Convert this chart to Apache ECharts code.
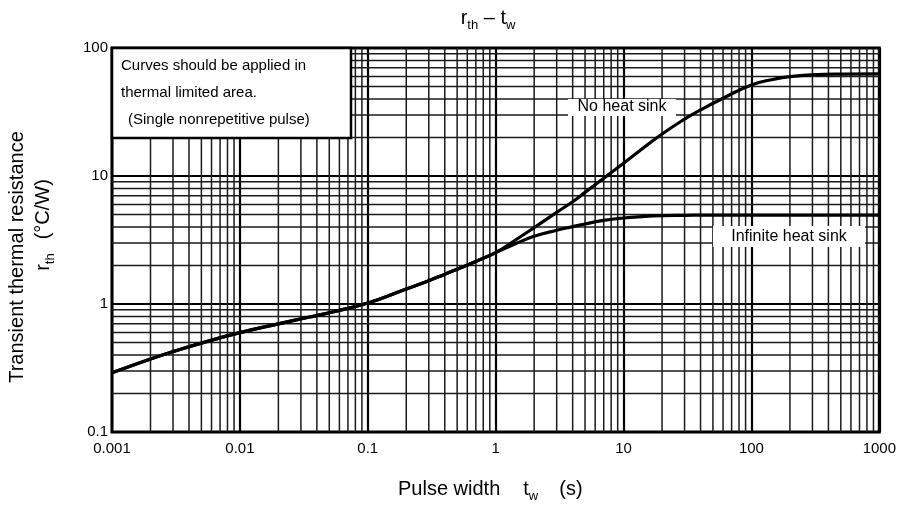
<!DOCTYPE html>
<html><head><meta charset="utf-8">
<script src="https://cdn.jsdelivr.net/npm/echarts@6/dist/echarts.min.js"></script>
<style>html,body{margin:0;padding:0;background:#fff}#c{width:899px;height:512px}</style>
</head><body><div id="c"></div>
<script>
// ---- tick labels ----
const xTickLabels = ['0.001', '0.01', '0.1', '1', '10', '100', '1000'];
const yTickLabels = ['0.1', '1', '10', '100'];
const minorSteps = [2, 3, 4, 5, 6, 7, 8, 9];
const xDecades = [0.001, 0.01, 0.1, 1, 10, 100];
const yDecades = [0.1, 1, 10];

// ---- series: No heat sink ----
const twNoSink = [0.001, 0.002, 0.003, 0.005, 0.01, 0.02, 0.035, 0.05, 0.1, 0.2, 0.3, 0.4, 0.5, 0.7, 1,
  1.4, 2, 3, 4, 5, 7, 10, 14, 20, 30, 40, 60, 100, 150, 200, 300, 500, 1000];
const rthNoSink = [0.29, 0.372, 0.425, 0.495, 0.597, 0.70, 0.791, 0.855, 1.017, 1.31, 1.52, 1.71, 1.87, 2.15, 2.52,
  3.12, 3.95, 5.2, 6.3, 7.45, 9.6, 12.6, 16.3, 21.3, 27.8, 32.8, 40.5, 51.5, 57.0, 59.8, 61.8, 62.6, 62.8];

// ---- series: Infinite heat sink ----
const twInf = [0.001, 0.002, 0.003, 0.005, 0.01, 0.02, 0.035, 0.05, 0.1, 0.2, 0.3, 0.4, 0.5, 0.7, 1,
  1.4, 2, 3, 4, 5, 7, 10, 14, 20, 30, 50, 100, 1000];
const rthInf = [0.29, 0.372, 0.425, 0.495, 0.597, 0.70, 0.791, 0.855, 1.017, 1.31, 1.52, 1.71, 1.87, 2.15, 2.52,
  2.93, 3.38, 3.77, 4.02, 4.22, 4.50, 4.70, 4.82, 4.90, 4.93, 4.95, 4.95, 4.95];

const FONT = '"Liberation Sans", Arial, Helvetica, sans-serif';

function pairs(xs, ys) { return xs.map((x, i) => [x, ys[i]]); }
const xMinor = [];
xDecades.forEach(d => minorSteps.forEach(m => xMinor.push(+(d * m).toPrecision(6))));
const yMinor = [];
yDecades.forEach(d => minorSteps.forEach(m => yMinor.push(+(d * m).toPrecision(6))));

const MINOR_STYLE = { stroke: '#1a1a1a', lineWidth: 1.5 };

const chart = echarts.init(document.getElementById('c'), null, { renderer: 'canvas' });
chart.setOption({
  animation: false,
  backgroundColor: '#fff',
  grid: { left: 112, right: 19, top: 48, bottom: 80, show: true, borderColor: '#000', borderWidth: 3, backgroundColor: 'transparent' },
  xAxis: {
    type: 'log', logBase: 10, min: 0.001, max: 1000,
    axisLine: { show: false }, axisTick: { show: false },
    axisLabel: { margin: 9, color: '#000', fontSize: 15, fontFamily: FONT,
      showMinLabel: true, showMaxLabel: true,
      formatter: v => xTickLabels[Math.round(Math.log10(v)) + 3] },
    splitLine: { show: true, lineStyle: { color: '#000', width: 2.2 } }
  },
  yAxis: {
    type: 'log', logBase: 10, min: 0.1, max: 100,
    axisLine: { show: false }, axisTick: { show: false },
    axisLabel: { margin: 4, color: '#000', fontSize: 15, fontFamily: FONT,
      showMinLabel: true, showMaxLabel: true,
      formatter: v => yTickLabels[Math.round(Math.log10(v)) + 1] },
    splitLine: { show: true, lineStyle: { color: '#000', width: 2.2 } }
  },
  series: [
    {
      type: 'custom', silent: true, z: 1, clip: false,
      data: xMinor.map(v => [v, 1]),
      encode: { x: 0, y: 1 },
      renderItem: (params, api) => {
        const v = api.value(0);
        const a = api.coord([v, 0.1]);
        const b = api.coord([v, 100]);
        return { type: 'line', shape: { x1: a[0], y1: a[1], x2: b[0], y2: b[1] }, style: MINOR_STYLE };
      }
    },
    {
      type: 'custom', silent: true, z: 1, clip: false,
      data: yMinor.map(v => [1, v]),
      encode: { x: 0, y: 1 },
      renderItem: (params, api) => {
        const v = api.value(1);
        const a = api.coord([0.001, v]);
        const b = api.coord([1000, v]);
        return { type: 'line', shape: { x1: a[0], y1: a[1], x2: b[0], y2: b[1] }, style: MINOR_STYLE };
      }
    },
    {
      name: 'No heat sink', type: 'line', data: pairs(twNoSink, rthNoSink),
      showSymbol: false, smooth: true, z: 5,
      lineStyle: { color: '#000', width: 3.2 }
    },
    {
      name: 'Infinite heat sink', type: 'line', data: pairs(twInf, rthInf),
      showSymbol: false, smooth: true, z: 5,
      lineStyle: { color: '#000', width: 3.2 }
    }
  ],
  graphic: [
    // note box
    { type: 'rect', z: 100, shape: { x: 112, y: 48, width: 239, height: 90 },
      style: { fill: '#fff', stroke: '#000', lineWidth: 2.5 } },
    { type: 'text', z: 101, x: 121, y: 66, style: { text: 'Curves should be applied in', font: '15px ' + FONT, fill: '#000', align: 'left', verticalAlign: 'middle' } },
    { type: 'text', z: 101, x: 121, y: 93, style: { text: 'thermal limited area.', font: '15px ' + FONT, fill: '#000', align: 'left', verticalAlign: 'middle' } },
    { type: 'text', z: 101, x: 128, y: 120, style: { text: '(Single nonrepetitive pulse)', font: '15px ' + FONT, fill: '#000', align: 'left', verticalAlign: 'middle' } },
    // curve labels
    { type: 'rect', z: 100, shape: { x: 568, y: 99, width: 108, height: 17 }, style: { fill: '#fff' } },
    { type: 'text', z: 101, x: 622, y: 107, style: { text: 'No heat sink', font: '16px ' + FONT, fill: '#000', align: 'center', verticalAlign: 'middle' } },
    { type: 'rect', z: 100, shape: { x: 713, y: 226, width: 152, height: 21 }, style: { fill: '#fff' } },
    { type: 'text', z: 101, x: 789, y: 237, style: { text: 'Infinite heat sink', font: '16px ' + FONT, fill: '#000', align: 'center', verticalAlign: 'middle' } },
    // title
    { type: 'text', z: 101, x: 488, y: 18, style: {
      text: '{m|r}{s|th}{m| – t}{s|w}', align: 'center', verticalAlign: 'middle',
      rich: { m: { fontSize: 20, fontFamily: FONT, lineHeight: 28, verticalAlign: 'middle', color: '#000' },
              s: { fontSize: 13, fontFamily: FONT, lineHeight: 14, verticalAlign: 'bottom', color: '#000' } } } },
    // x axis name
    { type: 'text', z: 101, x: 398, y: 489, style: {
      text: '{m|Pulse width}{t|t}{s|w}{p|(s)}', align: 'left', verticalAlign: 'middle',
      rich: { m: { fontSize: 20, fontFamily: FONT, lineHeight: 28, verticalAlign: 'middle', color: '#000' },
              t: { fontSize: 20, fontFamily: FONT, lineHeight: 28, verticalAlign: 'middle', color: '#000', padding: [0, 0, 0, 23] },
              p: { fontSize: 20, fontFamily: FONT, lineHeight: 28, verticalAlign: 'middle', color: '#000', padding: [0, 0, 0, 21] },
              s: { fontSize: 13, fontFamily: FONT, lineHeight: 14, verticalAlign: 'bottom', color: '#000' } } } },
    // y axis name
    { type: 'text', z: 101, x: 17.5, y: 257, rotation: Math.PI / 2, style: {
      text: 'Transient thermal resistance', font: '20px ' + FONT, fill: '#000', align: 'center', verticalAlign: 'middle' } },
    { type: 'text', z: 101, x: 43, y: 225, rotation: Math.PI / 2, style: {
      text: '{m|r}{s|th}{p|(°C/W)}', align: 'center', verticalAlign: 'middle',
      rich: { m: { fontSize: 20, fontFamily: FONT, lineHeight: 28, verticalAlign: 'middle', color: '#000' },
              p: { fontSize: 20, fontFamily: FONT, lineHeight: 28, verticalAlign: 'middle', color: '#000', padding: [0, 0, 0, 14] },
              s: { fontSize: 13, fontFamily: FONT, lineHeight: 14, verticalAlign: 'bottom', color: '#000' } } } }
  ]
});
</script>
</body></html>
